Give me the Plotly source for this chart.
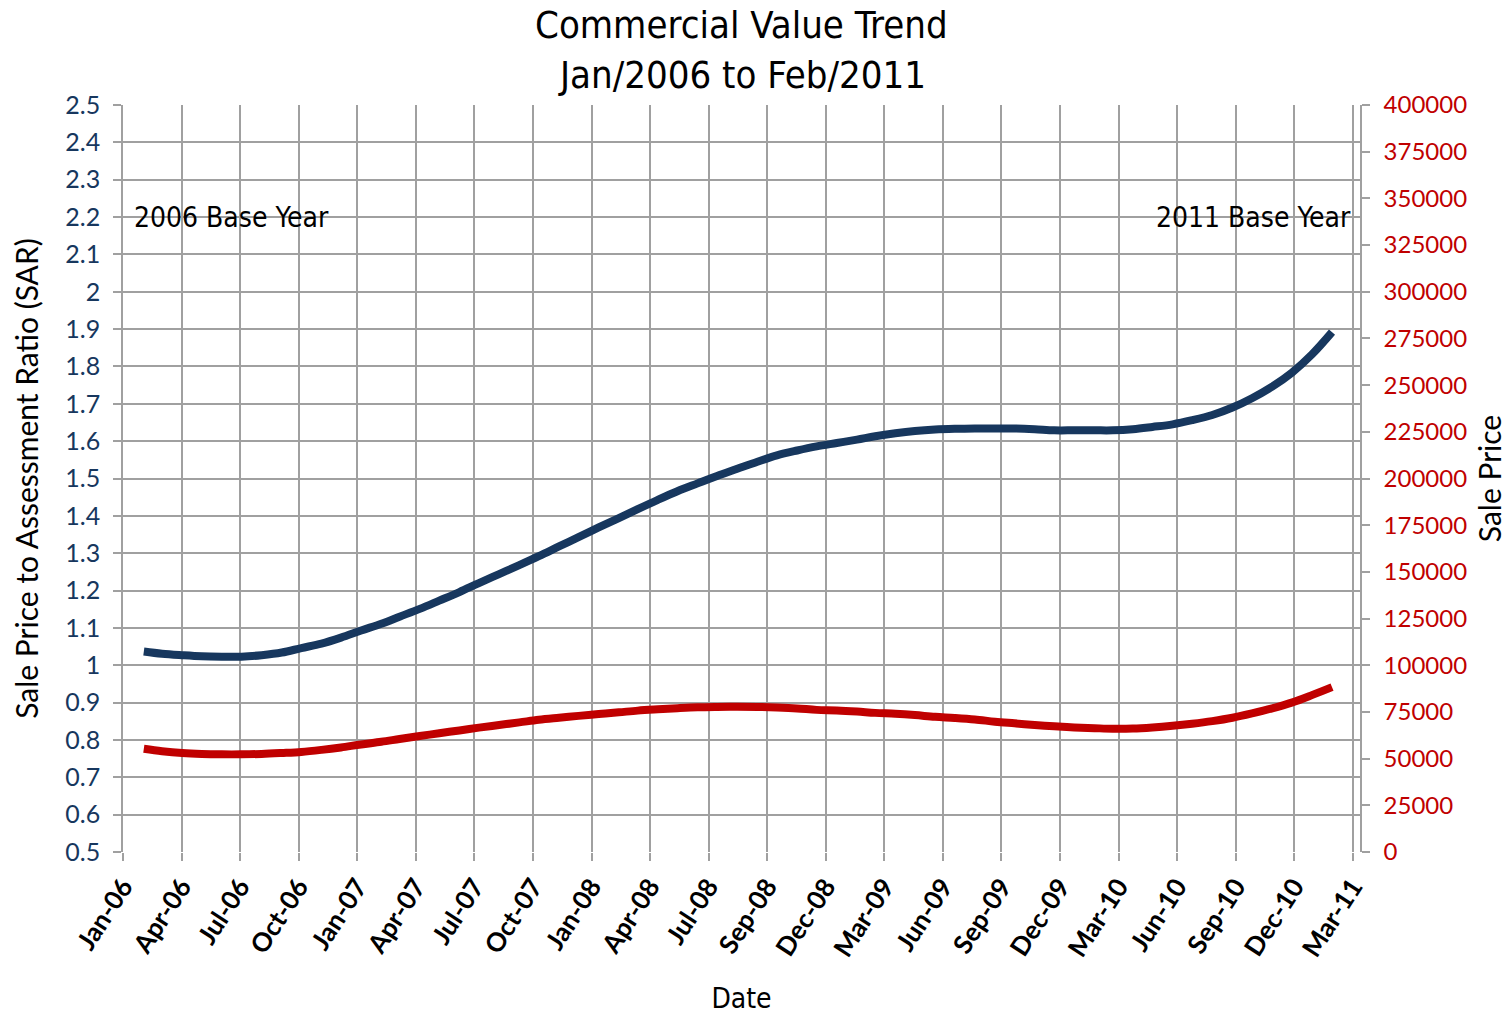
import pandas as pd
import plotly.graph_objects as go

# Monthly series, mid-Feb 2006 .. mid-Feb 2011
months = pd.date_range("2006-02-01", "2011-02-01", freq="MS") + pd.Timedelta(days=14)

sar = [
    1.037, 1.031, 1.027, 1.024, 1.023, 1.023, 1.027, 1.034, 1.046, 1.058, 1.074,          # 2006
    1.093, 1.111, 1.130, 1.151, 1.173, 1.196, 1.220, 1.244, 1.268, 1.292, 1.318, 1.343,   # 2007
    1.369, 1.394, 1.418, 1.443, 1.466, 1.487, 1.507, 1.526, 1.545, 1.562, 1.575, 1.586,   # 2008
    1.595, 1.604, 1.613, 1.621, 1.627, 1.631, 1.633, 1.634, 1.634, 1.634, 1.632, 1.629,   # 2009
    1.629, 1.629, 1.629, 1.632, 1.638, 1.645, 1.656, 1.670, 1.690, 1.715, 1.746, 1.783,   # 2010
    1.832, 1.892,                                                                          # 2011
]

sale_price = [
    55300, 54000, 53000, 52500, 52300, 52300, 52500, 53000, 53600, 54700, 56000,
    57600, 59000, 60500, 62100, 63600, 65100, 66600, 68000, 69400, 70800, 71900, 72900,
    73900, 74800, 75700, 76400, 77000, 77500, 77700, 77800, 77700, 77400, 76900, 76100,
    75800, 75200, 74500, 74000, 73300, 72400, 71800, 71000, 69800, 68900, 68000, 67300,
    66700, 66300, 66000, 66100, 66700, 67600, 68700, 70100, 71900, 74200, 76900, 80000,
    84000, 88300,
]

tick_labels = [
    "Jan-06", "Apr-06", "Jul-06", "Oct-06", "Jan-07", "Apr-07", "Jul-07", "Oct-07",
    "Jan-08", "Apr-08", "Jul-08", "Sep-08", "Dec-08", "Mar-09", "Jun-09", "Sep-09",
    "Dec-09", "Mar-10", "Jun-10", "Sep-10", "Dec-10", "Mar-11",
]

title_lines = ["Commercial Value Trend", "Jan/2006 to Feb/2011"]

# date axis ticks every 90 days
axis_start = pd.Timestamp("2006-01-14")
tick_dates = [axis_start + pd.Timedelta(days=90 * k) for k in range(len(tick_labels))]
axis_end = tick_dates[-1] + pd.Timedelta(days=11)

BLUE = "#17375E"
RED = "#C00000"
GRID = "#A0A0A0"
NARROW = "Liberation Sans Narrow, DejaVu Sans Condensed, sans-serif"
BODY = "Lato, Open Sans, sans-serif"

fig = go.Figure()
fig.add_trace(go.Scatter(
    x=months, y=sar, mode="lines", name="SAR",
    line=dict(color=BLUE, width=8, shape="spline"), yaxis="y",
))
fig.add_trace(go.Scatter(
    x=months, y=sale_price, mode="lines", name="Sale Price",
    line=dict(color=RED, width=8, shape="spline"), yaxis="y2",
))

annotations = [
    dict(text=title_lines[0], x=0.5, xref="paper", y=1.107, yref="paper",
         xanchor="center", yanchor="middle", showarrow=False,
         font=dict(family=NARROW, size=38, color="black")),
    dict(text=title_lines[1], x=0.5, xref="paper", y=1.040, yref="paper",
         xanchor="center", yanchor="middle", showarrow=False,
         font=dict(family=NARROW, size=38, color="black")),
    dict(text="2006 Base Year", x=0.007, xref="paper", y=2.2, yref="y",
         xanchor="left", yanchor="middle", showarrow=False,
         font=dict(family=NARROW, size=28, color="black")),
    dict(text="2011 Base Year", x=0.994, xref="paper", y=2.2, yref="y",
         xanchor="right", yanchor="middle", showarrow=False,
         font=dict(family=NARROW, size=28, color="black")),
]

fig.update_layout(
    width=1511, height=1015,
    margin=dict(l=123, r=151, t=105, b=163, autoexpand=False),
    paper_bgcolor="white", plot_bgcolor="white",
    showlegend=False,
    xaxis=dict(
        type="date", range=[axis_start, axis_end], automargin=False,
        tickvals=tick_dates, ticktext=tick_labels, tickangle=-57,
        tickfont=dict(family=BODY, size=26, color="black", weight="bold"),
        ticks="outside", ticklen=8, tickcolor=GRID, tickwidth=1.5,
        showgrid=True, gridcolor=GRID, gridwidth=1.5,
        showline=False, zeroline=False,
        title=dict(text="Date", font=dict(family=NARROW, size=28, color="black"), standoff=34),
    ),
    yaxis=dict(
        range=[0.5, 2.5], dtick=0.1, tick0=0.5, automargin=False,
        tickfont=dict(family=BODY, size=25, color=BLUE),
        ticks="outside", ticklen=8, tickcolor=GRID, tickwidth=1.5,
        ticklabelstandoff=8,
        showgrid=True, gridcolor=GRID, gridwidth=1.5,
        showline=True, linecolor=GRID, linewidth=1.5, zeroline=False,
        title=dict(text="Sale Price to Assessment Ratio (SAR)",
                   font=dict(family=BODY, size=30, color="black"), standoff=18),
    ),
    yaxis2=dict(
        overlaying="y", side="right", automargin=False,
        range=[0, 400000], dtick=25000, tick0=0, tickformat="d",
        tickfont=dict(family=BODY, size=24, color=RED),
        ticks="outside", ticklen=8, tickcolor=GRID, tickwidth=1.5,
        ticklabelstandoff=9,
        showgrid=False, showline=True, linecolor=GRID, linewidth=1.5, zeroline=False,
        title=dict(text="Sale Price", font=dict(family=BODY, size=30, color="black"), standoff=14),
    ),
    annotations=annotations,
)

fig.write_html("out.html")
